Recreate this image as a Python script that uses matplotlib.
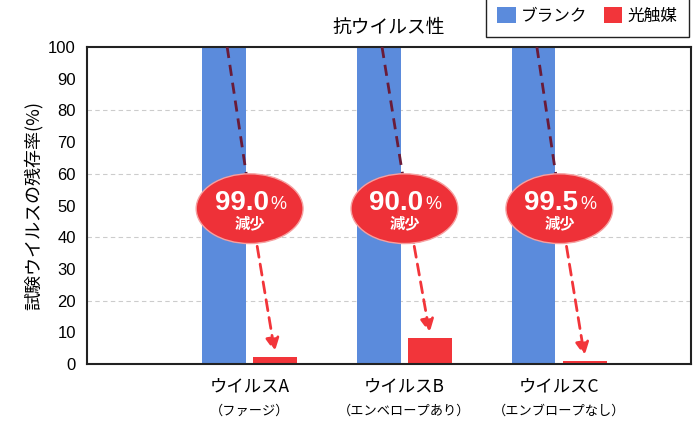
import numpy as np
import matplotlib
matplotlib.use('Agg')
import matplotlib.pyplot as plt
from matplotlib.patches import Ellipse, Patch
from matplotlib.transforms import blended_transform_factory

plt.rcParams['font.family'] = ['Noto Sans CJK JP', 'DejaVu Sans']

# data
viruses = ['ウイルスA', 'ウイルスB', 'ウイルスC']
sub_labels = ['（ファージ）', '（エンベロープあり）', '（エンブロープなし）']
blank = [100, 100, 100]
photocat = [2.2, 8.2, 0.9]
reduction = ['99.0', '90.0', '99.5']

blue = '#5b8bdc'
red = '#f2353a'

fig = plt.figure(figsize=(6.99, 4.23), dpi=100)
ax = fig.add_axes([87/699, 59/423, 604/699, 317/423])

x = np.arange(len(viruses))
w = 0.28
off = 0.165
ax.bar(x - off, blank, w, color=blue, zorder=2)
ax.bar(x + off, photocat, w, color=red, zorder=2)

ax.set_xlim(-1.05, 2.85)
ax.set_ylim(0, 100)
ax.set_yticks(np.arange(0, 101, 10))
ax.tick_params(axis='y', length=0, labelsize=12, pad=8)
ax.tick_params(axis='x', length=0, labelsize=12.5, pad=10)
for lb in ax.get_yticklabels():
    lb.set_family('Liberation Sans')
ax.set_xticks(x)
ax.set_xticklabels(viruses)
for yv in [20, 40, 60, 80]:
    ax.axhline(yv, color='#cccccc', lw=0.8, ls=(0, (4, 3)), zorder=1)
for s in ax.spines.values():
    s.set_linewidth(1.5)
    s.set_color('#222222')

trans = blended_transform_factory(ax.transData, ax.transAxes)
for i, s in enumerate(sub_labels):
    ax.text(x[i], -0.15, s, transform=trans, ha='center', va='center', fontsize=9.5)

ax.set_ylabel('試験ウイルスの残存率(%)', fontsize=13, labelpad=4)
ax.set_title('抗ウイルス性', fontsize=13.5, pad=10)

# arrows and ellipses
ecy = 49
eh = 22
ew = 0.69
for i in range(len(viruses)):
    x0, y0 = x[i] - off, blank[i]
    x1, y1 = x[i] + off, photocat[i] + 0.8
    yb = ecy - eh / 2
    xb = x0 + (x1 - x0) * (y0 - yb) / (y0 - y1)
    ax.plot([x0 + 0.02, xb], [y0, yb], color='#6a1b38', lw=2, ls=(0, (4, 2.5)), zorder=3)
    ax.annotate('', xy=(x1, y1), xytext=(xb, yb),
                arrowprops=dict(arrowstyle='-|>,head_length=0.8,head_width=0.4',
                                color=red, lw=2, ls=(0, (4, 2.5))), zorder=3)
    ecx = x[i]
    ax.add_patch(Ellipse((ecx, ecy), ew, eh, facecolor='#ee3138', edgecolor='#f6a0a0',
                         lw=1, zorder=4))
    ax.annotate(reduction[i], xy=(ecx, ecy), xytext=(19, 6), textcoords='offset pixels',
                ha='right', va='center', color='white', fontsize=20, fontweight='bold',
                family='Liberation Sans', zorder=5)
    ax.annotate('%', xy=(ecx, ecy), xytext=(21, 4), textcoords='offset pixels',
                ha='left', va='center', color='white', fontsize=13,
                family='Liberation Sans', zorder=5)
    ax.annotate('減少', xy=(ecx, ecy), xytext=(0, -15), textcoords='offset pixels',
                ha='center', va='center', color='white', fontsize=11, fontweight='bold',
                zorder=5)

handles = [Patch(facecolor=blue), Patch(facecolor=red)]
fig.legend(handles, ['ブランク', '光触媒'], loc='upper right', bbox_to_anchor=(697/699, 1.03),
           ncol=2, fontsize=12, frameon=True, fancybox=False, edgecolor='#222222',
           framealpha=1, handlelength=1.1, handleheight=1.1, handletextpad=0.3,
           columnspacing=1.0, borderpad=0.7)

fig.savefig('out.png', dpi=100)
